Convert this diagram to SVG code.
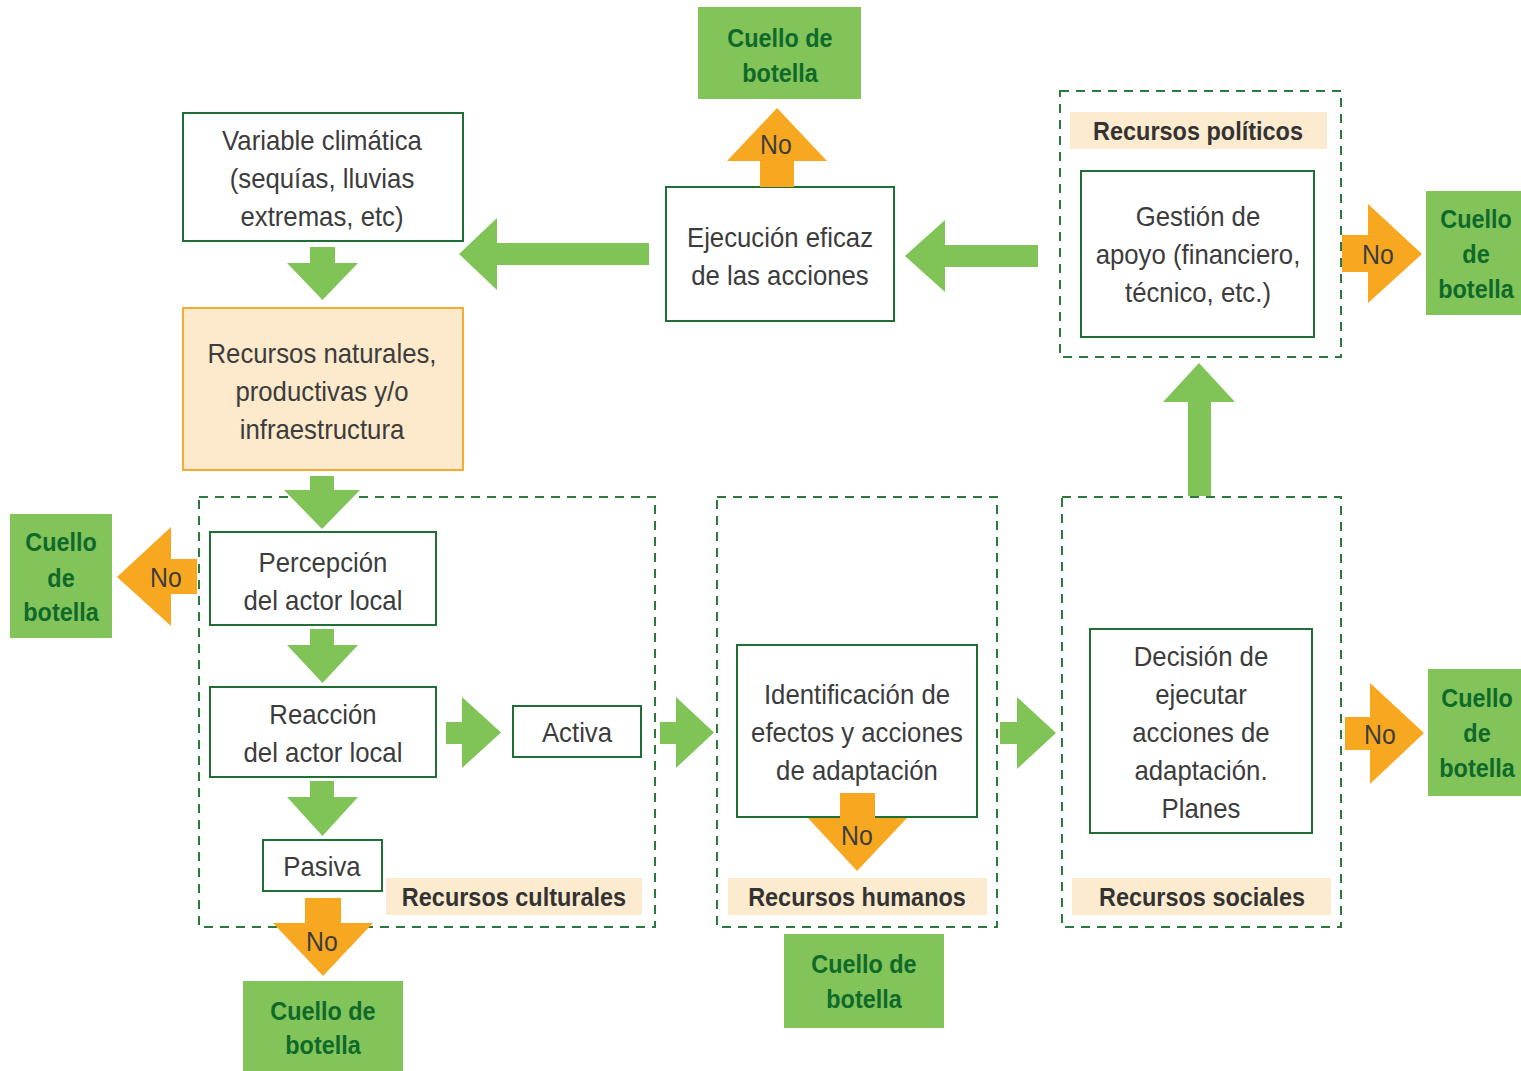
<svg xmlns="http://www.w3.org/2000/svg" width="1521" height="1071" viewBox="0 0 1521 1071">
<style>
.bg{fill:#ffffff}
.node{fill:#ffffff;stroke:#1f6e35;stroke-width:2}
.nat{fill:#fde9cb;stroke:#f6ab33;stroke-width:2}
.group{fill:none;stroke:#2a7a3d;stroke-width:2;stroke-dasharray:9 7}
.lab{fill:#fdebcf}
.neck{fill:#82c35a}
.ga{fill:#80c457}
.oa{fill:#f8a820}
.t{font-family:"Liberation Sans",Arial,sans-serif;font-size:28px;fill:#3c3c3c;text-anchor:middle}
.lb{font-family:"Liberation Sans",Arial,sans-serif;font-size:25.5px;font-weight:bold;fill:#333333;text-anchor:middle}
.nk{font-family:"Liberation Sans",Arial,sans-serif;font-size:26px;font-weight:bold;fill:#0f6a2a;text-anchor:middle}
.no{font-family:"Liberation Sans",Arial,sans-serif;font-size:27px;fill:#3c3c3c;text-anchor:middle}
</style>
<rect class="bg" x="0" y="0" width="1521" height="1071"/>

<g id="group-culturales">
<rect class="group" x="199" y="497" width="456" height="430"/>
<rect class="lab" x="386" y="878" width="256" height="37"/>
<text class="lb" transform="matrix(0.92 0 0 1 41.12 0)" x="514" y="906">Recursos culturales</text>
</g>
<g id="group-humanos">
<rect class="group" x="717" y="497" width="280" height="430"/>
<rect class="lab" x="728" y="878" width="259" height="37"/>
<text class="lb" transform="matrix(0.92 0 0 1 68.56 0)" x="857" y="906">Recursos humanos</text>
</g>
<g id="group-sociales">
<rect class="group" x="1062" y="497" width="279" height="430"/>
<rect class="lab" x="1072" y="878" width="259" height="37"/>
<text class="lb" transform="matrix(0.92 0 0 1 96.16 0)" x="1202" y="906">Recursos sociales</text>
</g>
<g id="group-politicos">
<rect class="group" x="1060" y="91" width="281" height="266"/>
<rect class="lab" x="1070" y="112" width="257" height="37"/>
<text class="lb" transform="matrix(0.92 0 0 1 95.84 0)" x="1198" y="140">Recursos políticos</text>
</g>

<g id="node-variable">
<rect class="node" x="183" y="113" width="280" height="128"/>
<text class="t" transform="matrix(0.92 0 0 1 25.76 0)"><tspan x="322" y="150">Variable climática</tspan><tspan x="322" y="188">(sequías, lluvias</tspan><tspan x="322" y="226">extremas, etc)</tspan></text>
</g>
<g id="node-recursos-naturales">
<rect class="nat" x="183" y="308" width="280" height="162"/>
<text class="t" transform="matrix(0.92 0 0 1 25.76 0)"><tspan x="322" y="363">Recursos naturales,</tspan><tspan x="322" y="401">productivas y/o</tspan><tspan x="322" y="439">infraestructura</tspan></text>
</g>
<g id="node-ejecucion">
<rect class="node" x="666" y="187" width="228" height="134"/>
<text class="t" transform="matrix(0.92 0 0 1 62.4 0)"><tspan x="780" y="247">Ejecución eficaz</tspan><tspan x="780" y="285">de las acciones</tspan></text>
</g>
<g id="node-gestion">
<rect class="node" x="1081" y="171" width="233" height="166"/>
<text class="t" transform="matrix(0.92 0 0 1 95.84 0)"><tspan x="1198" y="226">Gestión de</tspan><tspan x="1198" y="264">apoyo (financiero,</tspan><tspan x="1198" y="302">técnico, etc.)</tspan></text>
</g>
<g id="node-percepcion">
<rect class="node" x="210" y="532" width="226" height="93"/>
<text class="t" transform="matrix(0.92 0 0 1 25.84 0)"><tspan x="323" y="572">Percepción</tspan><tspan x="323" y="610">del actor local</tspan></text>
</g>
<g id="node-reaccion">
<rect class="node" x="210" y="687" width="226" height="90"/>
<text class="t" transform="matrix(0.92 0 0 1 25.84 0)"><tspan x="323" y="724">Reacción</tspan><tspan x="323" y="762">del actor local</tspan></text>
</g>
<g id="node-activa">
<rect class="node" x="513" y="706" width="128" height="51"/>
<text class="t" transform="matrix(0.92 0 0 1 46.16 0)" x="577" y="742">Activa</text>
</g>
<g id="node-pasiva">
<rect class="node" x="263" y="840" width="119" height="51"/>
<text class="t" transform="matrix(0.92 0 0 1 25.76 0)" x="322" y="876">Pasiva</text>
</g>
<g id="node-identificacion">
<rect class="node" x="737" y="645" width="240" height="172"/>
<text class="t" transform="matrix(0.92 0 0 1 68.56 0)"><tspan x="857" y="704">Identificación de</tspan><tspan x="857" y="742">efectos y acciones</tspan><tspan x="857" y="780">de adaptación</tspan></text>
</g>
<g id="node-decision">
<rect class="node" x="1090" y="629" width="222" height="204"/>
<text class="t" transform="matrix(0.92 0 0 1 96.08 0)"><tspan x="1201" y="666">Decisión de</tspan><tspan x="1201" y="704">ejecutar</tspan><tspan x="1201" y="742">acciones de</tspan><tspan x="1201" y="780">adaptación.</tspan><tspan x="1201" y="818">Planes</tspan></text>
</g>

<g id="neck-top">
<rect class="neck" x="698" y="7" width="163" height="92"/>
<text class="nk" transform="matrix(0.9 0 0 1 78 0)"><tspan x="780" y="47">Cuello de</tspan><tspan x="780" y="82">botella</tspan></text>
</g>
<g id="neck-right-top">
<rect class="neck" x="1426" y="191" width="95" height="124"/>
<text class="nk" transform="matrix(0.9 0 0 1 147.6 0)"><tspan x="1476" y="228">Cuello</tspan><tspan x="1476" y="263">de</tspan><tspan x="1476" y="298">botella</tspan></text>
</g>
<g id="neck-left">
<rect class="neck" x="10" y="514" width="102" height="124"/>
<text class="nk" transform="matrix(0.9 0 0 1 6.1 0)"><tspan x="61" y="551">Cuello</tspan><tspan x="61" y="587">de</tspan><tspan x="61" y="621">botella</tspan></text>
</g>
<g id="neck-right-bottom">
<rect class="neck" x="1428" y="669" width="93" height="127"/>
<text class="nk" transform="matrix(0.9 0 0 1 147.7 0)"><tspan x="1477" y="707">Cuello</tspan><tspan x="1477" y="742">de</tspan><tspan x="1477" y="777">botella</tspan></text>
</g>
<g id="neck-bottom-left">
<rect class="neck" x="243" y="981" width="160" height="90"/>
<text class="nk" transform="matrix(0.9 0 0 1 32.3 0)"><tspan x="323" y="1020">Cuello de</tspan><tspan x="323" y="1054">botella</tspan></text>
</g>
<g id="neck-bottom-mid">
<rect class="neck" x="784" y="934" width="160" height="94"/>
<text class="nk" transform="matrix(0.9 0 0 1 86.4 0)"><tspan x="864" y="973">Cuello de</tspan><tspan x="864" y="1008">botella</tspan></text>
</g>

<g id="connectors">
<polygon class="ga" points="310,247 335,247 335,263 358,263 322.5,300 287,263 310,263"/>
<polygon class="ga" points="310,476 334,476 334,490 360,490 322,529 284,490 310,490"/>
<polygon class="ga" points="310,629 334,629 334,645 358,645 322.5,683 287,645 310,645"/>
<polygon class="ga" points="310,781 334,781 334,797 358,797 322.5,836 287,797 310,797"/>
<polygon class="ga" points="446,722 462,722 462,697 501,732.5 462,768 462,744 446,744"/>
<polygon class="ga" points="660,722 676,722 676,697 714,732.5 676,768 676,744 660,744"/>
<polygon class="ga" points="1000,722 1017,722 1017,697 1056,733 1017,769 1017,744 1000,744"/>
<polygon class="ga" points="1188,496 1188,402 1163,402 1199,363 1235,402 1211,402 1211,496"/>
<polygon class="ga" points="1038,245 945,245 945,220 905,256 945,292 945,267 1038,267"/>
<polygon class="ga" points="649,243 497,243 497,218 459,254 497,290 497,265 649,265"/>

<polygon class="oa" points="760,187 760,161 727,161 777,108 827,161 794,161 794,187"/>
<text class="no" transform="matrix(0.92 0 0 1 62.08 0)" x="776" y="154">No</text>
<polygon class="oa" points="1342,235 1368,235 1368,204 1422,254 1368,303 1368,272 1342,272"/>
<text class="no" transform="matrix(0.92 0 0 1 110.24 0)" x="1378" y="264">No</text>
<polygon class="oa" points="197,559 171,559 171,527 117,577 171,626 171,594 197,594"/>
<text class="no" transform="matrix(0.92 0 0 1 13.28 0)" x="166" y="587">No</text>
<polygon class="oa" points="305,898 341,898 341,923 373,923 323,976 273,923 305,923"/>
<text class="no" transform="matrix(0.92 0 0 1 25.76 0)" x="322" y="951">No</text>
<polygon class="oa" points="840,793 875,793 875,818 907,818 857,871 808,818 840,818"/>
<text class="no" transform="matrix(0.92 0 0 1 68.56 0)" x="857" y="845">No</text>
<polygon class="oa" points="1345,717 1370,717 1370,683 1424,733 1370,784 1370,750 1345,750"/>
<text class="no" transform="matrix(0.92 0 0 1 110.4 0)" x="1380" y="744">No</text>
</g>
</svg>
